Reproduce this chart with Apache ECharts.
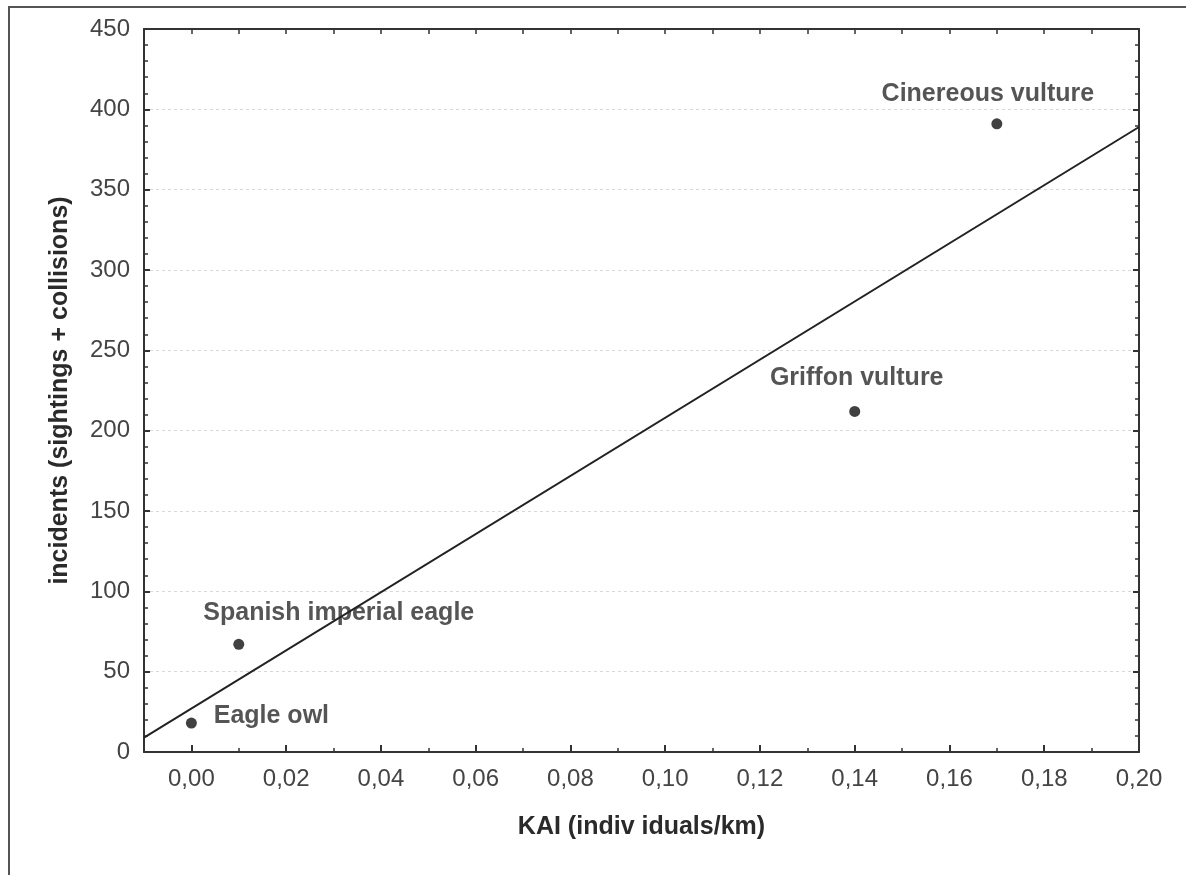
<!DOCTYPE html>
<html>
<head>
<meta charset="utf-8">
<script src="https://cdn.jsdelivr.net/npm/echarts@6/dist/echarts.min.js"></script>
<style>
  html, body { margin: 0; padding: 0; background: #fff; }
  #frame { position: absolute; left: 8px; top: 6px; width: 1178px; height: 869px;
           border-left: 2px solid #555; border-top: 2px solid #555; box-sizing: border-box; }
  #chart { position: absolute; left: 0; top: 0; width: 1186px; height: 875px; }
</style>
</head>
<body>
<div id="frame"></div>
<div id="chart"></div>
<script>
// ---- data ----
const species = ['Eagle owl', 'Spanish imperial eagle', 'Griffon vulture', 'Cinereous vulture'];
const kai = [0.00, 0.01, 0.14, 0.17];
const incidents = [18, 67, 212, 391];
const fitLineX = [-0.01, 0.20];
const fitLineY = [9, 389];
const labelOffsets = [[80, -7], [100, -31], [2, -33], [-9, -30]];

const xMin = -0.01, xMax = 0.20;
const yMin = 0, yMax = 450, yStep = 50;

const FONT = "'Liberation Sans', Arial, sans-serif";

const points = species.map((name, i) => ({ name: name, value: [kai[i], incidents[i]] }));
const line = fitLineX.map((x, i) => [x, fitLineY[i]]);

const chart = echarts.init(document.getElementById('chart'), null, { renderer: 'canvas' });

const axisLine = { show: true, onZero: false, lineStyle: { color: '#333', width: 2 } };

chart.setOption({
  animation: false,
  backgroundColor: 'transparent',
  grid: { left: 144, right: 47, top: 29, bottom: 123, containLabel: false },
  xAxis: [
    {
      type: 'value', position: 'bottom', min: xMin, max: xMax, splitNumber: 10,
      name: 'KAI (indiv iduals/km)', nameLocation: 'middle', nameGap: 63,
      nameTextStyle: { fontFamily: FONT, fontSize: 25, fontWeight: 'bold', color: '#2a2a2a' },
      axisLine: axisLine,
      axisTick: { show: true, inside: true, length: 7, lineStyle: { color: '#333', width: 2 } },
      axisLabel: {
        margin: 15, fontFamily: FONT, fontSize: 24, color: '#444',
        formatter: v => (v < -1e-9 ? '' : v.toFixed(2).replace('.', ','))
      },
      splitLine: { show: false }
    },
    {
      type: 'value', position: 'bottom', min: xMin, max: xMax, interval: 0.01,
      axisLine: { show: false },
      axisTick: { show: true, inside: true, length: 4, lineStyle: { color: '#333', width: 1.5 } },
      axisLabel: { show: false },
      splitLine: { show: false }
    },
    {
      type: 'value', position: 'top', min: xMin, max: xMax, interval: 0.01,
      axisLine: axisLine,
      axisTick: { show: true, inside: true, length: 5, lineStyle: { color: '#333', width: 1.5 } },
      axisLabel: { show: false },
      splitLine: { show: false }
    }
  ],
  yAxis: [
    {
      type: 'value', position: 'left', min: yMin, max: yMax, interval: yStep,
      name: 'incidents (sightings + collisions)', nameLocation: 'middle', nameGap: 71, nameRotate: 90,
      nameTextStyle: { fontFamily: FONT, fontSize: 25, fontWeight: 'bold', color: '#2a2a2a' },
      axisLine: axisLine,
      axisTick: { show: true, inside: true, length: 6, lineStyle: { color: '#333', width: 2 } },
      minorTick: { show: true, splitNumber: 5, length: 4, lineStyle: { color: '#333', width: 1.5 } },
      axisLabel: { margin: 14, fontFamily: FONT, fontSize: 24, color: '#444' },
      splitLine: { show: true, lineStyle: { color: '#d8d8d8', type: [3, 3], width: 1 } }
    },
    {
      type: 'value', position: 'right', min: yMin, max: yMax, interval: yStep,
      axisLine: axisLine,
      axisTick: { show: true, inside: true, length: 6, lineStyle: { color: '#333', width: 2 } },
      minorTick: { show: true, splitNumber: 5, length: 4, lineStyle: { color: '#333', width: 1.5 } },
      axisLabel: { show: false },
      splitLine: { show: false }
    }
  ],
  series: [
    {
      type: 'line', xAxisIndex: 0, yAxisIndex: 0, data: line,
      showSymbol: false, symbol: 'none', silent: true,
      lineStyle: { color: '#222', width: 2 }
    },
    {
      type: 'scatter', xAxisIndex: 0, yAxisIndex: 0, data: points,
      symbol: 'circle', symbolSize: 11,
      itemStyle: { color: '#111' },
      label: {
        show: true, position: 'inside', align: 'center', verticalAlign: 'middle',
        formatter: p => p.name,
        fontFamily: FONT, fontSize: 25, fontWeight: 'bold', color: '#2a2a2a'
      },
      labelLayout: p => ({ dx: labelOffsets[p.dataIndex][0], dy: labelOffsets[p.dataIndex][1], hideOverlap: false })
    }
  ]
});
</script>
</body>
</html>
